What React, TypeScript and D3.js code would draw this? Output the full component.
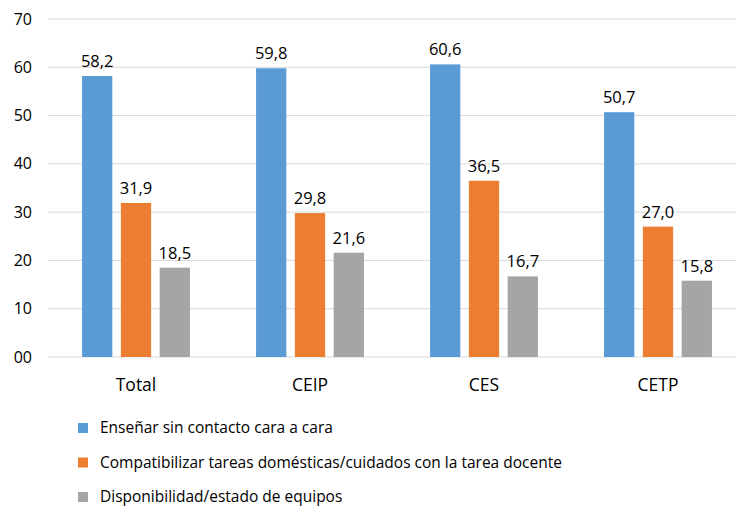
import React from 'react';
import * as d3 from 'd3';

const categories = ['Total', 'CEIP', 'CES', 'CETP'];
const seriesNames = [
  'Enseñar sin contacto cara a cara',
  'Compatibilizar tareas domésticas/cuidados con la tarea docente',
  'Disponibilidad/estado de equipos',
];
const teach = [58.2, 59.8, 60.6, 50.7];
const homeTasks = [31.9, 29.8, 36.5, 27.0];
const equipment = [18.5, 21.6, 16.7, 15.8];
const yTicks = [0, 10, 20, 30, 40, 50, 60, 70];
const colors = ['#5B9BD5', '#ED7D31', '#A5A5A5'];

const W = 736;
const H = 508;
const font = '"Open Sans", "Liberation Sans", sans-serif';

export default function App() {
  const series = [teach, homeTasks, equipment];

  const x = d3.scaleBand<string>()
    .domain(categories)
    .range([49, 745])
    .paddingInner(0.38)
    .paddingOuter(0.19);

  const xSub = d3.scaleBand<number>()
    .domain([0, 1, 2])
    .range([0, x.bandwidth()])
    .paddingInner(0.22);

  const y = d3.scaleLinear().domain([0, 70]).range([357, 19]);
  const fmt = d3.format('02d');
  const valFmt = (v: number) => v.toFixed(1).replace('.', ',');

  return (
    <svg width={W} height={H} style={{ position: 'absolute', left: 0, top: 0, background: '#fff' }}
      fontFamily={font}>
      {/* grid + y labels */}
      {yTicks.map(t => (
        <g key={t}>
          <line x1={48} x2={W} y1={y(t)} y2={y(t)} stroke="#D9D9D9" strokeWidth={1} />
          <text x={32} y={y(t)} dy="0.35em" textAnchor="end" fontSize={16} fill="#000">{fmt(t)}</text>
        </g>
      ))}

      {/* bars */}
      {categories.map((c, ci) => (
        <g key={c} transform={`translate(${x(c)},0)`}>
          {series.map((s, si) => (
            <g key={si}>
              <rect x={xSub(si)} y={y(s[ci])} width={xSub.bandwidth()} height={y(0) - y(s[ci])}
                fill={colors[si]} />
              <text x={(xSub(si) as number) + xSub.bandwidth() / 2} y={y(s[ci]) - 9}
                textAnchor="middle" fontSize={16.5} fill="#000">{valFmt(s[ci])}</text>
            </g>
          ))}
          <text x={x.bandwidth() / 2} y={385} dy="0.35em" textAnchor="middle" fontSize={17.5} fill="#000">{c}</text>
        </g>
      ))}

      {/* legend */}
      {seriesNames.map((n, i) => (
        <g key={n} transform={`translate(78,${428 + i * 34.5})`}>
          <rect x={0} y={-5} width={10} height={10} fill={colors[i]} />
          <text x={22} y={0} dy="0.35em" fontSize={15.5} fill="#000">{n}</text>
        </g>
      ))}
    </svg>
  );
}
